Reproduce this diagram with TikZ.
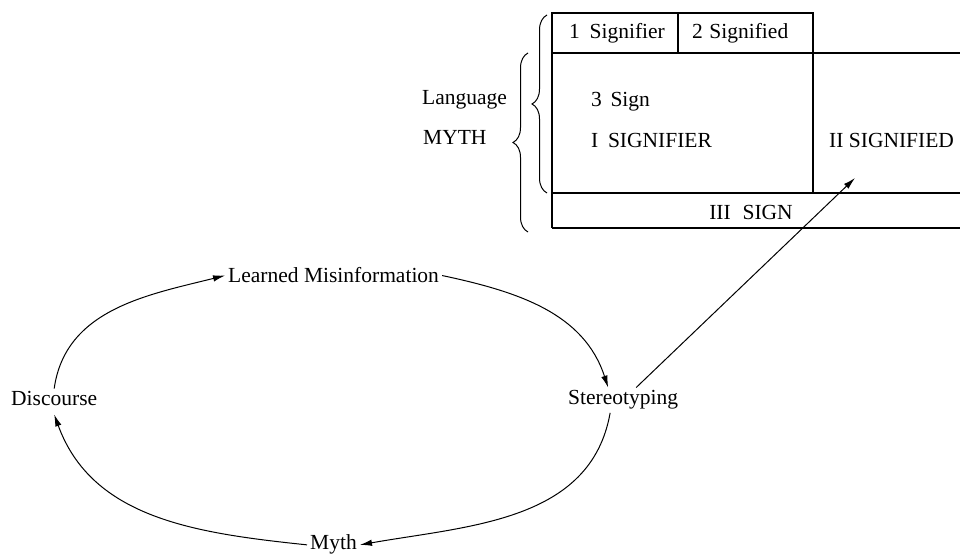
\documentclass[tikz,border=0pt]{standalone}
\usepackage{fontspec}
\setmainfont{Liberation Serif}
\usetikzlibrary{arrows.meta,decorations.pathreplacing}
\begin{document}
\begin{tikzpicture}[x=1pt,y=1pt,
  lbl/.style={inner sep=3pt,font=\fontsize{21.5}{24}\selectfont,anchor=base west},
  tbl/.style={line width=1.2pt},
  conn/.style={line width=1pt,-{Latex[length=12pt,width=6.5pt]}},
  brc/.style={line width=1pt,decorate,decoration={brace,amplitude=15pt}}]
\useasboundingbox (0,0) rectangle (960,556);
% table
\draw[tbl] (552,328) -- (552,543) -- (813,543) -- (813,363);
\draw[tbl] (678,543) -- (678,503);
\draw[tbl] (552,503) -- (960,503);
\draw[tbl] (552,363) -- (960,363);
\draw[tbl] (552,328) -- (960,328);
% table texts
\node[lbl] (sr1) at (566,517) {1\hspace{0.45em}Signifier};
\node[lbl] (sd2) at (689,517) {2\hspace{0.3em}Signified};
\node[lbl] (sg3) at (588,449) {3\hspace{0.4em}Sign};
\node[lbl] (sr4) at (588,408) {I\hspace{0.45em}SIGNIFIER};
\node[lbl] (sd5) at (826,408) {II SIGNIFIED};
\node[lbl,anchor=base] (sg6) at (751,336) {III\hspace{0.55em}SIGN};
% braces
\draw[brc] (547,363) -- (547,541);
\draw[brc] (528,324) -- (528,503);
\node[lbl] (lang) at (419,451) {Language};
\node[lbl] (myth2) at (420,411) {MYTH};
% cycle
\node[lbl] (lm) at (225,273) {Learned Misinformation};
\node[lbl] (disc) at (8,150) {Discourse};
\node[lbl] (st) at (565,151) {Stereotyping};
\node[lbl] (my) at (307,6) {Myth};
\coordinate (tip) at (855,378);
\draw[conn] (disc.north) to[out=82,in=194] (lm.west);
\draw[conn] (lm.east) to[out=-12,in=108] ([xshift=-15pt]st.north);
\draw[conn] ([xshift=-13pt]st.south) to[out=-100,in=10] (my.east);
\draw[conn] (my.west) to[out=174,in=-70] ([yshift=-5pt]disc.south);
\draw[conn] ([xshift=13pt]st.north) -- (tip);
\end{tikzpicture}
\end{document}
